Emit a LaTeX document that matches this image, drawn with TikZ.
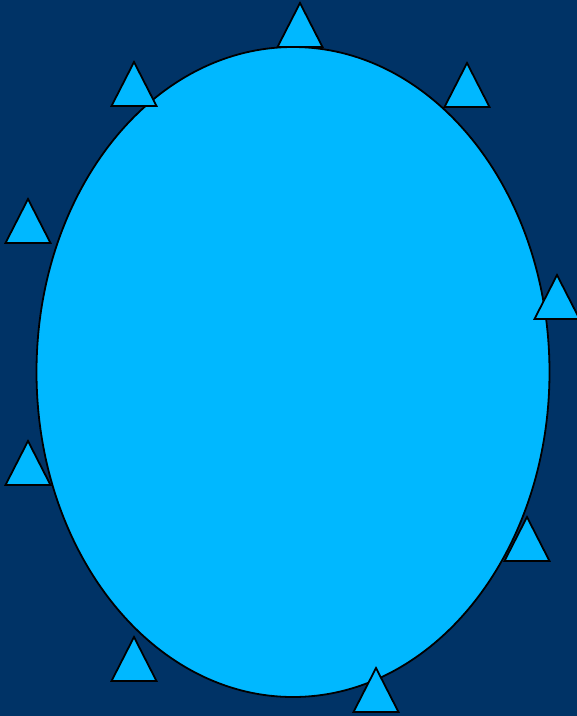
\documentclass[tikz,border=0pt]{standalone}
\usepackage{xcolor}
\usepackage{tikz}

\definecolor{navybg}{RGB}{0,51,102}
\definecolor{skyfill}{RGB}{0,184,255}

\begin{document}
\begin{tikzpicture}[
  x=1pt,y=-1pt,
  blob/.style={draw=black,line width=1.8pt,fill=skyfill},
  spike/.style={draw=black,line width=1.8pt,fill=skyfill,line join=miter}
]
\fill[navybg] (0,0) rectangle (577,716);
\useasboundingbox (0,0) rectangle (577,716);
% big cell
\draw[blob] (293,372) ellipse [x radius=256.5,y radius=325];
% triangles round it, given by apex
\foreach \ax/\ay in {300/3,134/62,467/63,28/199,557/275,28/441,527/517,134/637,376/668}
  \draw[spike] (\ax,\ay) -- ++(22.5,44) -- ++(-45,0) -- cycle;
\end{tikzpicture}
\end{document}
